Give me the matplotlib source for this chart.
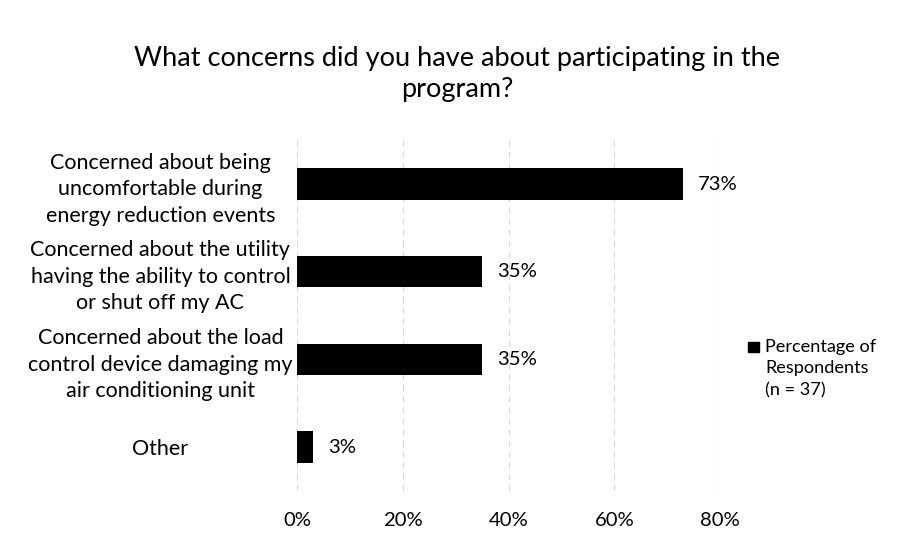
import matplotlib.pyplot as plt
import matplotlib.patches as mpatches

plt.rcParams['font.family'] = ['Lato', 'DejaVu Sans']

categories = [
    "Concerned about being\nuncomfortable during\nenergy reduction events",
    "Concerned about the utility\nhaving the ability to control\nor shut off my AC",
    "Concerned about the load\ncontrol device damaging my\nair conditioning unit",
    "Other",
]
values = [73, 35, 35, 3]
x_ticks = [0, 20, 40, 60, 80]
series_name = "Percentage of\nRespondents\n(n = 37)"

W, H = 909, 533
fig = plt.figure(figsize=(W / 100, H / 100), dpi=100)
ax = fig.add_axes([0.327, 0.079, 0.465, 0.658])

pos = list(range(len(categories)))
ax.barh(pos, values, height=0.36, color="black", zorder=3)
for p, v in zip(pos, values):
    ax.text(v + 2.8, p, f"{v}%", va="center", ha="left", fontsize=14.6)

ax.set_xlim(0, 80)
ax.set_ylim(len(categories) - 0.5, -0.5)
ax.set_yticks(pos)
ax.set_yticklabels(categories, fontsize=15.5, ha="center", linespacing=1.4)
ax.tick_params(axis="y", length=0, pad=98.5)
ax.set_xticks(x_ticks)
ax.set_xticklabels([f"{t}%" for t in x_ticks], fontsize=14.6)
ax.tick_params(axis="x", length=0, pad=15)
ax.xaxis.grid(True, color="#d9d9d9", linewidth=0.8, linestyle=(0, (6, 4)), zorder=0)
for s in ax.spines.values():
    s.set_visible(False)

# legend: square key next to the first line of the series name
fig.patches.append(mpatches.Rectangle((748 / W, 1 - 352 / H), 11 / W, 10 / H,
                                      transform=fig.transFigure, color="black"))
fig.text(765 / W, 1 - 339 / H, series_name, ha="left", va="top",
         fontsize=13.1, linespacing=1.42)

fig.suptitle("What concerns did you have about participating in the\nprogram?",
             fontsize=19.5, x=0.503, y=1 - 74 / H, va="center", linespacing=1.26)

fig.savefig("out.png", dpi=100)
